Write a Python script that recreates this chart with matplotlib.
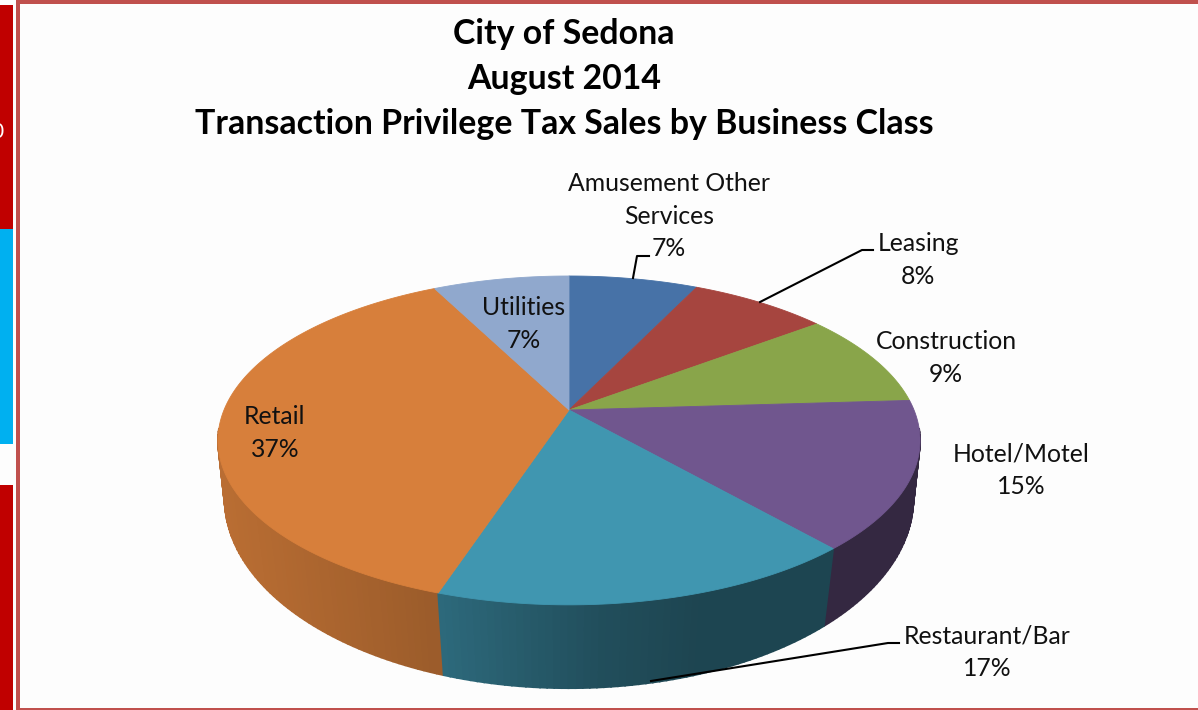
import numpy as np
import matplotlib
matplotlib.use("Agg")
import matplotlib.pyplot as plt
from matplotlib.patches import Polygon, Rectangle

# Data (clockwise from 12 o'clock)
categories = ["Amusement Other\nServices", "Leasing", "Construction", "Hotel/Motel",
              "Restaurant/Bar", "Retail", "Utilities"]
values = [7.1, 7.6, 9.3, 14.5, 16.5, 37.4, 7.49]
percent_labels = ["7%", "8%", "9%", "15%", "17%", "37%", "7%"]
title_lines = ["City of Sedona", "August 2014", "Transaction Privilege Tax Sales by Business Class"]

# Style
top_colors = ["#4772A7", "#A6453F", "#89A54A", "#70568E", "#4096B0", "#D77F3B", "#90A8CD"]
label_xy = [(669, 216), (918, 260), (946, 358), (1021, 470), (987, 652), (275, 433), (524, 324)]
FONT = "Lato"

plt.rcParams["font.family"] = [FONT, "DejaVu Sans"]
fig = plt.figure(figsize=(11.98, 7.10), dpi=100, facecolor="#FDFDFD")
ax = fig.add_axes([0, 0, 1, 1])
ax.set_xlim(0, 1198)
ax.set_ylim(710, 0)
ax.axis("off")

# Page furniture
for y0, y1, c in [(5, 229, "#C00000"), (229, 444, "#00B0F0"), (485, 710, "#C00000")]:
    ax.add_patch(Rectangle((0, y0), 12.5, y1 - y0, fc=c, ec="none", zorder=1))
ax.text(4, 132, "0", color="white", fontsize=15, ha="right", va="center", zorder=2,
        clip_on=True, clip_path=Rectangle((0, 0), 12.5, 710, transform=ax.transData))
frame = "#C0504D"
ax.add_patch(Rectangle((16, 0), 1182, 4, fc=frame, ec="none", zorder=2))
ax.add_patch(Rectangle((16, 0), 4, 710, fc=frame, ec="none", zorder=2))
ax.add_patch(Rectangle((16, 708), 1182, 2, fc=frame, ec="none", zorder=2))


def top_pt(a):
    u, v = np.sin(a), -np.cos(a)
    d = 1 - 0.185 * v
    return 569 + 345 * u / d, 410 + 158.8 * v / d


def bot_pt(a):
    u, v = np.sin(a), -np.cos(a)
    d = 1 - 0.16 * v
    return 569 + 340 * u / d, 468 + 185 * v / d


def shade(x):
    return np.interp(x, [225, 440, 441, 600, 700, 1000],
                     [0.86, 0.72, 0.70, 0.52, 0.46, 0.46])


vals = np.array(values, dtype=float)
edges = np.radians(np.concatenate([[0], np.cumsum(vals)]) / vals.sum() * 360)

# Side wall: small quads drawn back to front (only the front part can be seen)
quads = []
for i, col in enumerate(top_colors):
    n = max(int((edges[i + 1] - edges[i]) / np.radians(1.0)), 2)
    aa = np.linspace(edges[i], edges[i + 1], n + 1)
    rgb = np.array(matplotlib.colors.to_rgb(col))
    for a0, a1 in zip(aa[:-1], aa[1:]):
        depth = -np.cos((a0 + a1) / 2)
        if depth < 0.12:
            continue
        tx0, ty0 = top_pt(a0); tx1, ty1 = top_pt(a1)
        bx0, by0 = bot_pt(a0); bx1, by1 = bot_pt(a1)
        s = shade((tx0 + tx1) / 2)
        quads.append((depth, [(tx0, ty0), (tx1, ty1), (bx1, by1), (bx0, by0)], rgb * s))
for depth, pts, c in sorted(quads, key=lambda q: q[0]):
    ax.add_patch(Polygon(pts, closed=True, fc=c, ec=c, lw=1.2, zorder=3))

# Top face
for i, col in enumerate(top_colors):
    n = max(int((edges[i + 1] - edges[i]) / np.radians(0.5)), 2)
    aa = np.linspace(edges[i], edges[i + 1], n + 1)
    pts = [(569, 410)] + [top_pt(a) for a in aa]
    ax.add_patch(Polygon(pts, closed=True, fc=col, ec=col, lw=0.6, zorder=4))

# Leader lines
for xs, ys in [([633, 637, 649], [278, 256, 256]),
               ([760, 862, 873], [302, 250, 250]),
               ([651, 888, 899], [681, 643, 643])]:
    ax.plot(xs, ys, color="black", lw=1.5, zorder=5, solid_joinstyle="round")

# Labels
for (x, y), cat, pct in zip(label_xy, categories, percent_labels):
    ax.text(x, y, f"{cat}\n{pct}", fontsize=17.8, color="#111111", ha="center", va="center",
            linespacing=1.5, zorder=6)

# Title
for y, line in zip([34, 79, 124], title_lines):
    ax.text(564, y, line, fontsize=24.4, fontweight="bold", color="black", ha="center",
            va="center", zorder=6)

fig.savefig("out.png", dpi=100, facecolor=fig.get_facecolor())
